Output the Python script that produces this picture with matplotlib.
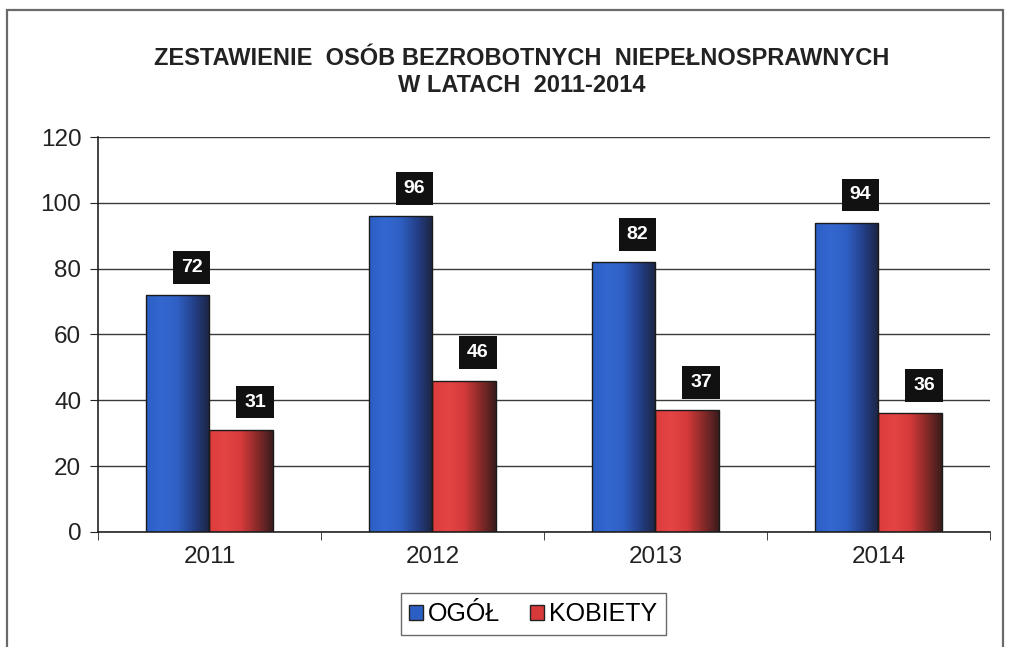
import numpy as np
import matplotlib.pyplot as plt
from matplotlib.colors import LinearSegmentedColormap
from matplotlib.patches import Patch, Rectangle

plt.rcParams['font.family'] = ['Liberation Sans', 'DejaVu Sans']

years = ['2011', '2012', '2013', '2014']
ogol = [72, 96, 82, 94]
kobiety = [31, 46, 37, 36]

blue_cmap = LinearSegmentedColormap.from_list(
    'b', ['#2c5fc4', '#3468d0', '#2f5fc2', '#24408a', '#1c2440'])
red_cmap = LinearSegmentedColormap.from_list(
    'r', ['#de3c3c', '#e44444', '#d63a3a', '#8a2a2a', '#3a1c1c'])

fig = plt.figure(figsize=(10.1, 6.47), dpi=100)
fig.patches.append(Rectangle((0.007, -0.01), 0.986, 0.995, transform=fig.transFigure,
                             fill=False, edgecolor='#6a6a6a', lw=1.6))
ax = fig.add_axes([0.097, 0.178, 0.883, 0.61])

x = np.arange(len(years))
w = 0.285
grad = np.linspace(0, 1, 256).reshape(1, -1)


def gradient_bars(xs, vals, cmap):
    bars = ax.bar(xs, vals, w, facecolor='none', edgecolor='#1a1a1a', lw=1.0, zorder=3)
    for b in bars:
        x0, h = b.get_x(), b.get_height()
        im = ax.imshow(grad, cmap=cmap, extent=(x0, x0 + w, 0, h), aspect='auto',
                       zorder=2, interpolation='bilinear')
        im.set_clip_path(b)
    return bars


gradient_bars(x - w / 2, ogol, blue_cmap)
gradient_bars(x + w / 2, kobiety, red_cmap)

for xs, vals in ((x - w / 2, ogol), (x + w / 2, kobiety)):
    for xi, v in zip(xs, vals):
        ax.annotate(str(v), (xi, v), xytext=(10, 20), textcoords='offset points',
                    ha='center', va='center', color='white', fontsize=14, fontweight='bold',
                    bbox=dict(boxstyle='square,pad=0.4', fc='#111111', ec='none'), zorder=5)

ax.set_xlim(-0.5, 3.5)
ax.set_ylim(0, 120)
ax.set_yticks(range(0, 121, 20))
ax.yaxis.grid(True, color='#3a3a3a', lw=1.0)
ax.set_axisbelow(True)
ax.set_xticks(x)
ax.set_xticklabels(years)
ax.set_xticks(np.arange(-0.5, 4.0, 1.0), minor=True)
ax.tick_params(axis='x', which='major', length=0, pad=10, labelsize=17.5, labelcolor='#222222')
ax.tick_params(axis='x', which='minor', length=6, color='#222222')
ax.tick_params(axis='y', length=6, labelsize=17.5, pad=6, color='#222222', labelcolor='#222222')
for s in ('top', 'right'):
    ax.spines[s].set_visible(False)
for s in ('left', 'bottom'):
    ax.spines[s].set_color('#222222')
    ax.spines[s].set_linewidth(1.2)

fig.text(0.517, 0.91, 'ZESTAWIENIE  OSÓB BEZROBOTNYCH  NIEPEŁNOSPRAWNYCH',
         ha='center', va='center', fontsize=17, fontweight='bold', color='#222222')
fig.text(0.517, 0.868, 'W LATACH  2011-2014',
         ha='center', va='center', fontsize=17, fontweight='bold', color='#222222')

handles = [Patch(facecolor='#2c5fc4', edgecolor='#222222', label='OGÓŁ'),
           Patch(facecolor='#d83a3a', edgecolor='#222222', label='KOBIETY')]
fig.legend(handles=handles, loc='center', bbox_to_anchor=(0.528, 0.051), ncol=2,
           fontsize=18, frameon=True, fancybox=False, edgecolor='#444444',
           handlelength=0.55, handleheight=0.55, handletextpad=0.2, columnspacing=1.2,
           borderpad=0.35)

fig.savefig('out.png', dpi=100)
